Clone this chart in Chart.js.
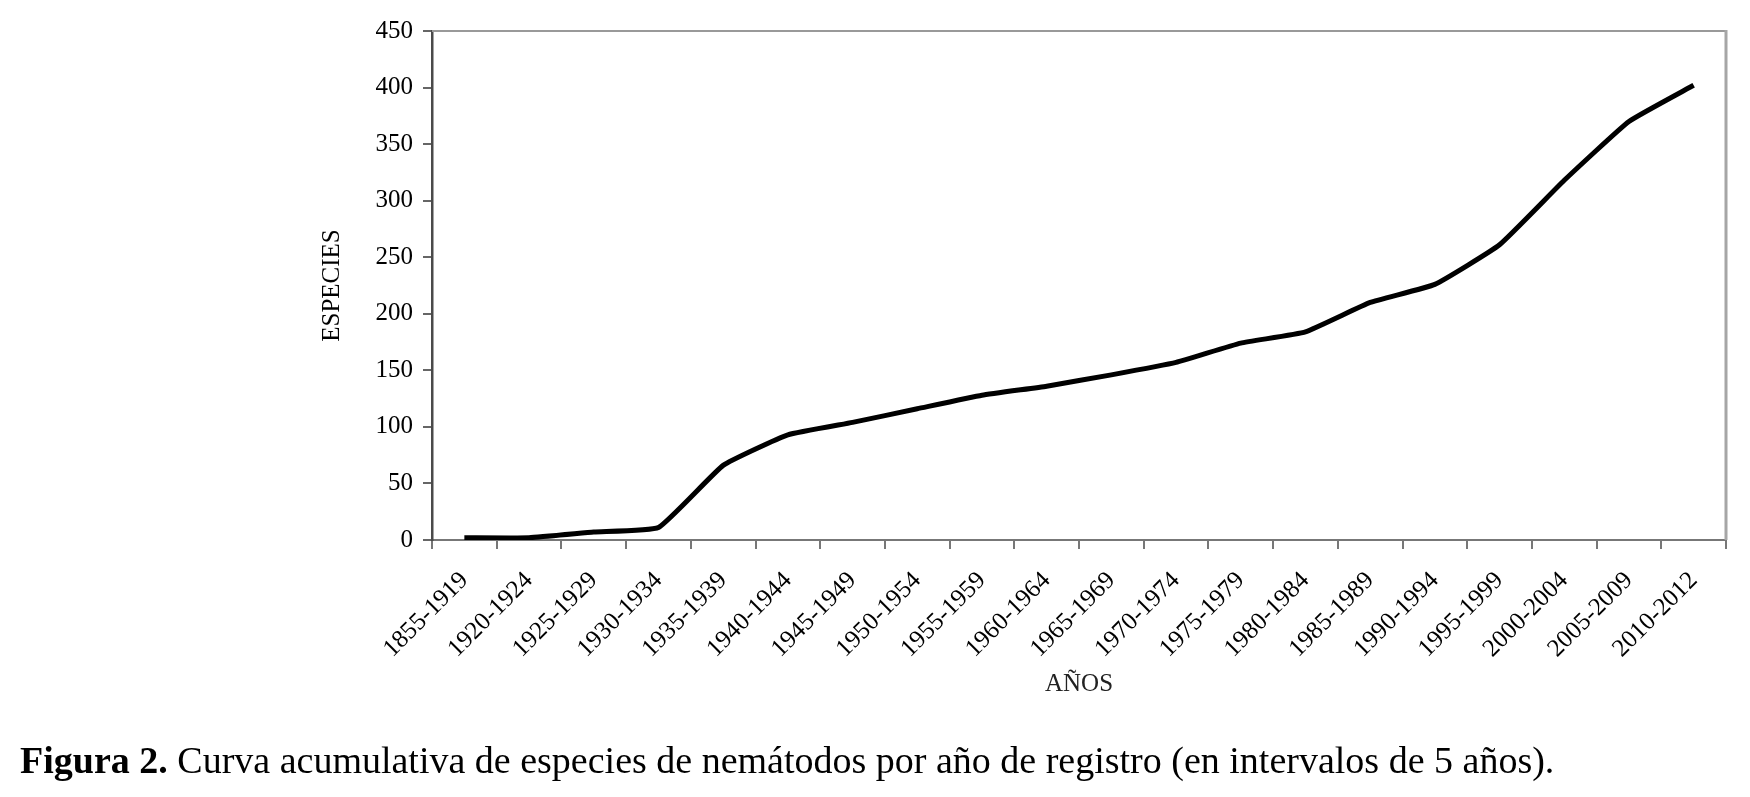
<!DOCTYPE html>
<html>
<head>
<meta charset="utf-8">
<script src="https://cdn.jsdelivr.net/npm/chart.js@4.4.1/dist/chart.umd.min.js"></script>
<style>
  html, body { margin: 0; padding: 0; background: #fff; }
  #wrap { position: relative; width: 1750px; height: 797px; overflow: hidden; }
  #c { position: absolute; left: 0; top: 0; }
  #cap { position: absolute; left: 20px; top: 737px; font-family: 'Liberation Serif', 'Times New Roman', serif; font-size: 38px; line-height: 46px; color: #000; white-space: nowrap; }
</style>
</head>
<body>
<div id="wrap">
  <canvas id="c" width="1750" height="797"></canvas>
  <div id="cap"><b>Figura 2.</b> Curva acumulativa de especies de nemátodos por año de registro (en intervalos de 5 años).</div>
</div>
<script>
const categories = ['1855-1919','1920-1924','1925-1929','1930-1934','1935-1939','1940-1944','1945-1949','1950-1954','1955-1959','1960-1964','1965-1969','1970-1974','1975-1979','1980-1984','1985-1989','1990-1994','1995-1999','2000-2004','2005-2009','2010-2012'];
const especies = [2, 2, 7, 11, 66, 93, 104, 116, 128, 136, 146, 157, 174, 184, 210, 226, 261, 318, 370, 402];
const yTicks = [0, 50, 100, 150, 200, 250, 300, 350, 400, 450];
const xTitle = 'AÑOS';
const yTitle = 'ESPECIES';

const serif = "'Liberation Serif', 'Times New Roman', serif";

const frame = {
  id: 'frame',
  afterDatasetsDraw(chart) {
    const {ctx, chartArea: a} = chart;
    ctx.save();
    ctx.strokeStyle = '#999';
    ctx.lineWidth = 2;
    ctx.beginPath();
    ctx.moveTo(a.left, a.top);
    ctx.lineTo(a.right, a.top);
    ctx.stroke();
    ctx.strokeStyle = '#a6a6a6';
    ctx.lineWidth = 3;
    ctx.beginPath();
    ctx.moveTo(a.right, a.top - 1);
    ctx.lineTo(a.right, a.bottom);
    ctx.stroke();
    ctx.restore();
  }
};

new Chart(document.getElementById('c'), {
  type: 'line',
  data: {
    labels: categories,
    datasets: [{
      data: especies,
      borderColor: '#000',
      borderWidth: 5,
      pointRadius: 0,
      fill: false,
      tension: 0.12
    }]
  },
  options: {
    responsive: false,
    animation: false,
    devicePixelRatio: 1,
    layout: { padding: { left: 0, right: 24, top: 31, bottom: 0 } },
    plugins: { legend: { display: false }, tooltip: { enabled: false } },
    scales: {
      x: {
        type: 'category',
        offset: true,
        grid: { offset: true, drawOnChartArea: false, drawTicks: true, tickLength: 9, color: '#777', lineWidth: 2 },
        border: { display: true, color: '#777', width: 2 },
        ticks: {
          autoSkip: false, maxRotation: 45, minRotation: 45, padding: 17,
          color: '#000', font: { family: serif, size: 25 }
        },
        title: {
          display: true, text: xTitle, color: '#222',
          font: { family: serif, size: 25 },
          padding: { top: 0, bottom: 98 }
        },
        afterFit(scale) { scale.height = 797 - 540; }
      },
      y: {
        min: 0, max: 450,
        afterBuildTicks(scale) { scale.ticks = yTicks.map(v => ({ value: v })); },
        grid: { drawOnChartArea: false, drawTicks: true, tickLength: 9, color: '#666', lineWidth: 2 },
        border: { display: true, color: '#4a4a4a', width: 2.5 },
        ticks: { padding: 10, color: '#000', font: { family: serif, size: 25 } },
        title: {
          display: true, text: yTitle, color: '#000',
          font: { family: serif, size: 25 },
          padding: { top: 317, bottom: 0 }
        },
        afterFit(scale) { scale.width = 432; }
      }
    }
  },
  plugins: [frame]
});
</script>
</body>
</html>
